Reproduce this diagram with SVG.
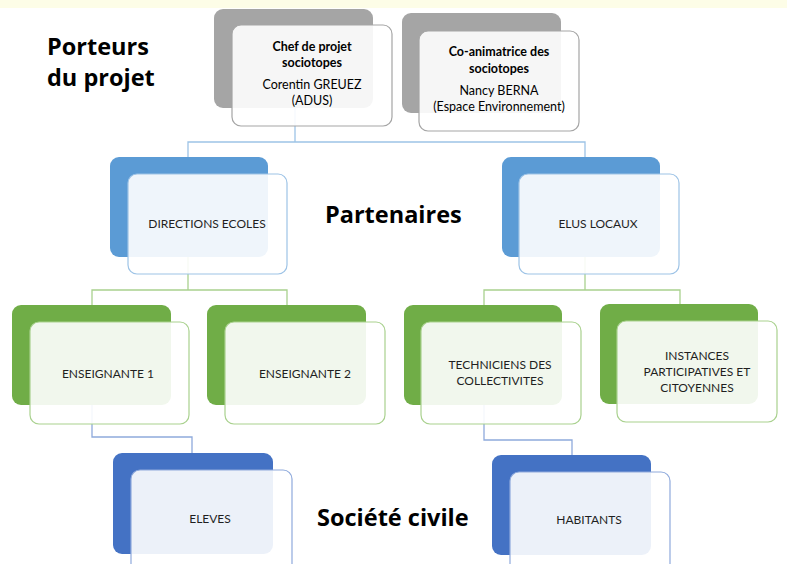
<svg xmlns="http://www.w3.org/2000/svg" width="787" height="564" viewBox="0 0 787 564">
<style>
.back{stroke:none}
.front{stroke-width:1.2;fill:#ffffff;fill-opacity:0.9}
.g .back{fill:#a5a5a5}
.g .front{stroke:#a5a5a5}
.b .back{fill:#5b9bd5}
.b .front{stroke:#9dc3e6}
.v .back{fill:#70ad47}
.v .front{stroke:#a9d18e}
.d .back{fill:#4472c4}
.d .front{stroke:#8faadc}
.lbl{font-family:Lato,"Liberation Sans",sans-serif;font-size:12px;fill:#1f1f1f;text-anchor:middle}
.tb{font-family:Lato,"Liberation Sans",sans-serif;font-size:12.5px;font-weight:bold;fill:#000;text-anchor:middle}
.tn{font-family:Lato,"Liberation Sans",sans-serif;font-size:12.5px;fill:#000;text-anchor:middle}
.head{font-family:"Open Sans","Liberation Sans",sans-serif;font-weight:bold;font-size:23.5px;fill:#000}
.conn{fill:none;stroke-width:1.3}
</style>
<rect x="0" y="0" width="787" height="564" fill="#ffffff"/>
<rect x="0" y="0" width="787" height="8" fill="#fdfde7"/>
<g id="connectors">
<polyline class="conn" stroke="#9dc3e6" points="295,108 295,142"/>
<polyline class="conn" stroke="#9dc3e6" points="188,157 188,142 585,142 585,157"/>
<polyline class="conn" stroke="#a9d18e" points="188,257 188,290"/>
<polyline class="conn" stroke="#a9d18e" points="92,305 92,290 287,290 287,305"/>
<polyline class="conn" stroke="#a9d18e" points="585,257 585,290"/>
<polyline class="conn" stroke="#a9d18e" points="484,305 484,290 680,290 680,305"/>
<polyline class="conn" stroke="#8faadc" points="92,405 92,437 192,437 192,453"/>
<polyline class="conn" stroke="#8faadc" points="484,405 484,440 572,440 572,455"/>
</g>
<g id="chef" class="g">
<rect class="back" x="214" y="9" width="159" height="99" rx="9"/>
<rect class="front" x="232" y="25" width="160" height="101" rx="9"/>
<text class="tb" x="312" y="51">Chef de projet</text>
<text class="tb" x="312" y="67">sociotopes</text>
<text class="tn" x="312" y="89">Corentin GREUEZ</text>
<text class="tn" x="312" y="105">(ADUS)</text>
</g>
<g id="coanim" class="g">
<rect class="back" x="402" y="13" width="159" height="100" rx="9"/>
<rect class="front" x="419" y="31" width="160" height="100" rx="9"/>
<text class="tb" x="499" y="56">Co-animatrice des</text>
<text class="tb" x="499" y="73">sociotopes</text>
<text class="tn" x="499" y="95">Nancy BERNA</text>
<text class="tn" x="499" y="111">(Espace Environnement)</text>
</g>
<g id="directions" class="b">
<rect class="back" x="110" y="157" width="158" height="100" rx="9"/>
<rect class="front" x="128" y="174" width="159" height="100" rx="9"/>
<text class="lbl" x="207" y="228">DIRECTIONS ECOLES</text>
</g>
<g id="elus" class="b">
<rect class="back" x="502" y="157" width="158" height="100" rx="9"/>
<rect class="front" x="519" y="174" width="160" height="100" rx="9"/>
<text class="lbl" x="598" y="228">ELUS LOCAUX</text>
</g>
<g id="ens1" class="v">
<rect class="back" x="12" y="305" width="159" height="100" rx="9"/>
<rect class="front" x="30" y="322" width="159" height="102" rx="9"/>
<text class="lbl" x="108" y="378">ENSEIGNANTE 1</text>
</g>
<g id="ens2" class="v">
<rect class="back" x="207" y="305" width="159" height="100" rx="9"/>
<rect class="front" x="225" y="322" width="160" height="102" rx="9"/>
<text class="lbl" x="305" y="378">ENSEIGNANTE 2</text>
</g>
<g id="techniciens" class="v">
<rect class="back" x="404" y="305" width="158" height="100" rx="9"/>
<rect class="front" x="421" y="322" width="160" height="102" rx="9"/>
<text class="lbl" x="500" y="369">TECHNICIENS DES</text>
<text class="lbl" x="500" y="385">COLLECTIVITES</text>
</g>
<g id="instances" class="v">
<rect class="back" x="600" y="304" width="158" height="100" rx="9"/>
<rect class="front" x="617" y="321" width="160" height="101" rx="9"/>
<text class="lbl" x="697" y="360">INSTANCES</text>
<text class="lbl" x="697" y="376">PARTICIPATIVES ET</text>
<text class="lbl" x="697" y="392">CITOYENNES</text>
</g>
<g id="eleves" class="d">
<rect class="back" x="113" y="453" width="160" height="101" rx="9"/>
<rect class="front" x="131" y="470" width="161" height="110" rx="9"/>
<text class="lbl" x="210" y="523">ELEVES</text>
</g>
<g id="habitants" class="d">
<rect class="back" x="492" y="455" width="159" height="100" rx="9"/>
<rect class="front" x="510" y="472" width="160" height="110" rx="9"/>
<text class="lbl" x="589" y="524">HABITANTS</text>
</g>
<g id="labels">
<text class="head" x="47" y="55">Porteurs</text>
<text class="head" x="47" y="86">du projet</text>
<text class="head" x="325" y="223">Partenaires</text>
<text class="head" x="317" y="526">Société civile</text>
</g>
</svg>
